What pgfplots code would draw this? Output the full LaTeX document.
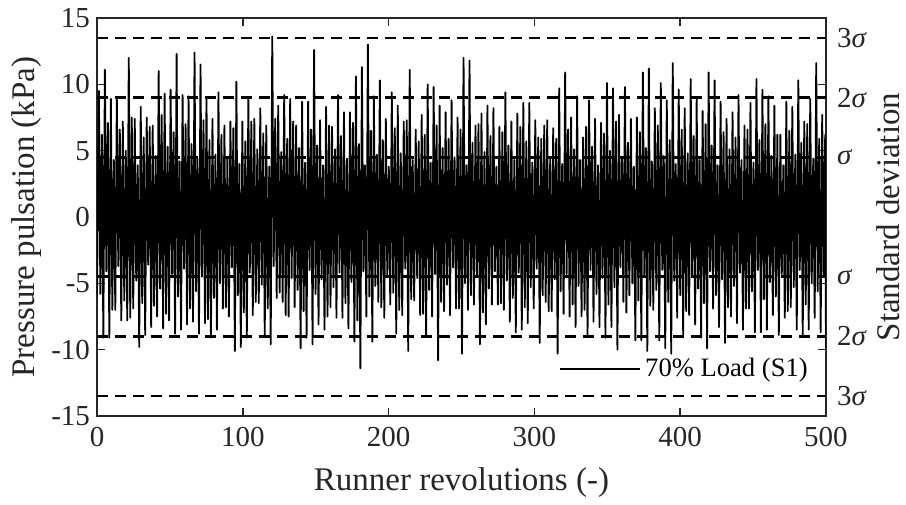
\documentclass[border=0pt]{standalone}
\usepackage{fontspec}
\setmainfont{Liberation Serif}
\usepackage{pgfplots}
\pgfplotsset{compat=1.18}
\definecolor{axgray}{HTML}{262626}
\begin{document}
\begin{tikzpicture}
\useasboundingbox (-48.5pt,-44pt) rectangle (404.5pt,208pt);
\begin{axis}[
  scale only axis, width=364.5pt, height=199pt,
  xmin=0, xmax=500, ymin=-15, ymax=15,
  xtick={0,100,200,300,400,500}, xticklabels={0,100,200,300,400,500},
  ytick={-15,-10,-5,0,5,10,15}, yticklabels={-15,-10,-5,0,5,10,15},
  tick pos=both, ticklabel pos=default,
  tick align=inside, major tick length=4pt,
  axis line style={draw=axgray, line width=0.8pt},
  tick style={draw=axgray, line width=0.8pt},
  ticklabel style={font=\fontsize{14.5}{16}\selectfont, text=axgray},
  xticklabel style={yshift=-2pt},
  xlabel={Runner revolutions (-)},
  ylabel={Pressure pulsation (kPa)},
  label style={font=\fontsize{16.5}{19}\selectfont, text=axgray, inner sep=0pt},
  xlabel style={at={(axis description cs:0.5,-0.166)}, anchor=center},
  ylabel style={at={(axis description cs:-0.096,0.5)}, anchor=center},
  legend style={at={(axis description cs:0.981,0.081)}, anchor=south east, draw=none, fill=none, font=\fontsize{13.3}{15}\selectfont, inner sep=0pt},
  legend image code/.code={\draw[#1] (0pt,0pt) -- (40pt,0pt);},
]
\addplot[black, line width=0.9pt, line join=round] coordinates {
(0,-6.0)
(1.3,9.5)(2.3,-5.8)(3.35,6.2)(4.35,-9.1)
(5.4,11.1)(6.4,-4.1)(7.45,7.1)(8.45,-9.1)
(9.5,8.9)(10.5,-7.0)(11.55,4.3)(12.55,-7.0)
(13.6,9.0)(14.6,-3.7)(15.65,6.6)(16.65,-7.8)
(17.7,7.2)(18.7,-6.3)(19.75,5.0)(20.75,-7.8)
(21.8,12.0)(22.8,-7.6)(23.85,7.5)(24.85,-6.9)
(25.9,7.4)(26.9,-4.8)(27.95,3.9)(28.95,-9.8)
(30.0,8.3)(31.0,-6.5)(32.05,6.0)(33.05,-8.9)
(34.1,7.5)(35.1,-3.6)(36.15,6.8)(37.15,-8.3)
(38.2,6.9)(39.2,-6.7)(40.25,4.6)(41.25,-7.5)
(42.3,11.0)(43.3,-5.4)(44.35,7.7)(45.35,-8.4)
(46.4,9.3)(47.4,-7.3)(48.45,5.3)(49.45,-7.8)
(50.5,9.6)(51.5,-4.3)(52.55,6.4)(53.55,-8.8)
(54.6,12.3)(55.6,-6.0)(56.65,4.2)(57.65,-8.5)
(58.7,9.2)(59.7,-3.9)(60.75,7.0)(61.75,-8.1)
(62.8,9.1)(63.8,-6.9)(64.85,5.5)(65.85,-7.9)
(66.9,12.4)(67.9,-5.6)(68.95,4.4)(69.95,-8.8)
(71.0,11.5)(72.0,-4.5)(73.05,7.3)(74.05,-8.0)
(75.1,9.0)(76.1,-7.7)(77.15,5.8)(78.15,-9.1)
(79.2,7.4)(80.2,-6.1)(81.25,4.7)(82.25,-8.5)
(83.3,9.4)(84.3,-5.0)(85.35,6.2)(86.35,-6.9)
(87.4,6.9)(88.4,-6.8)(89.45,4.5)(90.45,-7.5)
(91.5,7.2)(92.5,-3.8)(93.55,6.7)(94.55,-10.1)
(95.6,10.2)(96.6,-5.9)(97.65,4.0)(98.65,-9.8)
(99.7,7.2)(100.7,-7.2)(101.75,5.7)(102.75,-9.1)
(103.8,8.9)(104.8,-4.2)(105.85,7.2)(106.85,-7.4)
(107.9,7.4)(108.9,-6.4)(109.95,5.1)(110.95,-6.5)
(112.0,8.2)(113.0,-5.1)(114.05,6.3)(115.05,-8.9)
(116.1,6.9)(117.1,-6.9)(118.15,3.8)(119.15,-9.6)
(120.2,13.6)(121.2,-3.7)(122.25,7.4)(123.25,-6.1)
(124.3,8.4)(125.3,-5.7)(126.35,4.9)(127.35,-6.4)
(128.4,9.2)(129.4,-7.4)(130.45,5.9)(131.45,-7.5)
(132.5,8.9)(133.5,-4.6)(134.55,7.2)(135.55,-6.8)
(136.6,6.9)(137.6,-5.5)(138.65,5.2)(139.65,-9.9)
(140.7,8.7)(141.7,-7.1)(142.75,4.1)(143.75,-9.1)
(144.8,8.7)(145.8,-4.0)(146.85,6.6)(147.85,-9.6)
(148.9,12.6)(149.9,-5.8)(150.95,5.4)(151.95,-8.1)
(153.0,7.3)(154.0,-4.7)(155.05,3.9)(156.05,-8.5)
(157.1,8.3)(158.1,-7.5)(159.15,6.9)(160.15,-6.8)
(161.2,6.8)(162.2,-5.3)(163.25,5.1)(164.25,-7.6)
(165.3,9.2)(166.3,-4.2)(167.35,6.1)(168.35,-7.6)
(169.4,7.9)(170.4,-6.5)(171.45,4.4)(172.45,-8.4)
(173.5,7.9)(174.5,-4.9)(175.55,7.1)(176.55,-9.4)
(177.6,10.6)(178.6,-7.8)(179.65,5.5)(180.65,-11.4)
(181.7,11.3)(182.7,-4.1)(183.75,3.9)(184.75,-7.5)
(185.8,13.0)(186.8,-6.0)(187.85,6.5)(188.85,-9.4)
(189.9,9.1)(190.9,-5.2)(191.95,4.7)(192.95,-6.4)
(194.0,10.3)(195.0,-6.8)(196.05,5.8)(197.05,-7.6)
(198.1,7.4)(199.1,-4.4)(200.15,3.8)(201.15,-6.6)
(202.2,9.4)(203.2,-5.7)(204.25,6.7)(205.25,-8.8)
(206.3,8.4)(207.3,-7.0)(208.35,4.8)(209.35,-7.4)
(210.4,7.2)(211.4,-3.9)(212.45,7.3)(213.45,-10.1)
(214.5,11.1)(215.5,-6.2)(216.55,4.3)(217.55,-6.3)
(218.6,6.6)(219.6,-4.6)(220.65,5.7)(221.65,-7.4)
(222.7,7.7)(223.7,-7.3)(224.75,6.2)(225.75,-8.9)
(226.8,10.0)(227.8,-5.5)(228.85,4.1)(229.85,-7.5)
(230.9,9.8)(231.9,-4.3)(232.95,6.9)(233.95,-10.8)
(235.0,8.4)(236.0,-6.4)(237.05,5.2)(238.05,-7.1)
(239.1,7.9)(240.1,-5.1)(241.15,5.9)(242.15,-7.4)
(243.2,8.8)(244.2,-3.8)(245.25,4.5)(246.25,-6.9)
(247.3,7.5)(248.3,-6.9)(249.35,6.6)(250.35,-10.3)
(251.4,12.0)(252.4,-5.0)(253.45,3.9)(254.45,-7.0)
(255.5,11.8)(256.5,-5.9)(257.55,5.6)(258.55,-6.6)
(259.6,6.9)(260.6,-4.5)(261.65,7.0)(262.65,-9.6)
(263.7,7.8)(264.7,-7.2)(265.75,4.9)(266.75,-8.1)
(267.8,8.4)(268.8,-5.4)(269.85,6.1)(270.85,-6.6)
(271.9,8.2)(272.9,-4.1)(273.95,3.8)(274.95,-6.6)
(276.0,6.8)(277.0,-6.5)(278.05,6.4)(279.05,-7.0)
(280.1,9.4)(281.1,-4.8)(282.15,5.4)(283.15,-7.9)
(284.2,7.2)(285.2,-6.1)(286.25,4.3)(287.25,-8.7)
(288.3,7.8)(289.3,-4.2)(290.35,6.8)(291.35,-8.5)
(292.4,8.6)(293.4,-6.8)(294.45,5.7)(295.45,-8.0)
(296.5,8.6)(297.5,-5.3)(298.55,4.1)(299.55,-6.9)
(300.6,7.3)(301.6,-3.9)(302.65,6.0)(303.65,-9.5)
(304.7,5.9)(305.7,-5.9)(306.75,6.9)(307.75,-6.4)
(308.8,7.3)(309.8,-7.1)(310.85,4.5)(311.85,-7.1)
(312.9,6.7)(313.9,-4.7)(314.95,5.9)(315.95,-10.3)
(317.0,9.7)(318.0,-5.6)(319.05,4.0)(320.05,-7.3)
(321.1,10.9)(322.1,-4.3)(323.15,6.6)(324.15,-7.5)
(325.2,7.5)(326.2,-6.6)(327.25,5.1)(328.25,-8.3)
(329.3,9.1)(330.3,-5.2)(331.35,4.3)(332.35,-7.5)
(333.4,6.0)(334.4,-7.0)(335.45,6.8)(336.45,-9.0)
(337.5,8.8)(338.5,-4.0)(339.55,5.3)(340.55,-7.9)
(341.6,7.4)(342.6,-5.8)(343.65,3.9)(344.65,-8.3)
(345.7,7.1)(346.7,-4.6)(347.75,6.3)(348.75,-9.1)
(349.8,10.1)(350.8,-6.6)(351.85,5.0)(352.85,-8.3)
(353.9,9.7)(354.9,-5.3)(355.95,7.2)(356.95,-10.0)
(358.0,7.7)(359.0,-3.8)(360.05,4.4)(361.05,-6.4)
(362.1,9.8)(363.1,-7.2)(364.15,5.6)(365.15,-5.9)
(366.2,7.4)(367.2,-5.0)(368.25,3.8)(369.25,-9.3)
(370.3,7.5)(371.3,-6.3)(372.35,6.4)(373.35,-9.3)
(374.4,10.9)(375.4,-4.4)(376.45,5.2)(377.45,-10.1)
(378.5,11.2)(379.5,-6.7)(380.55,4.2)(381.55,-7.0)
(382.6,8.2)(383.6,-5.5)(384.65,6.9)(385.65,-9.3)
(386.7,10.1)(387.7,-4.0)(388.75,4.6)(389.75,-9.9)
(390.8,8.8)(391.8,-6.4)(392.85,5.8)(393.85,-10.3)
(394.9,11.6)(395.9,-4.8)(396.95,4.0)(397.95,-7.6)
(399.0,9.6)(400.0,-5.9)(401.05,6.6)(402.05,-8.9)
(403.1,8.2)(404.1,-7.1)(405.15,4.8)(406.15,-7.4)
(407.2,10.4)(408.2,-4.5)(409.25,6.1)(410.25,-8.1)
(411.3,8.9)(412.3,-5.4)(413.35,4.3)(414.35,-9.1)
(415.4,8.0)(416.4,-6.5)(417.45,7.0)(418.45,-9.9)
(419.5,10.9)(420.5,-4.1)(421.55,5.4)(422.55,-6.9)
(423.6,10.3)(424.6,-5.9)(425.65,3.9)(426.65,-8.3)
(427.7,8.7)(428.7,-4.7)(429.75,6.4)(430.75,-9.5)
(431.8,7.4)(432.8,-6.8)(433.85,5.1)(434.85,-7.5)
(435.9,7.9)(436.9,-5.2)(437.95,6.0)(438.95,-8.0)
(440.0,9.2)(441.0,-4.2)(442.05,4.3)(443.05,-8.5)
(444.1,6.9)(445.1,-6.9)(446.15,6.6)(447.15,-6.9)
(448.2,8.6)(449.2,-5.6)(450.25,4.1)(451.25,-8.7)
(452.3,10.4)(453.3,-4.0)(454.35,5.8)(455.35,-8.7)
(456.4,9.6)(457.4,-6.2)(458.45,7.0)(459.45,-8.5)
(460.5,9.1)(461.5,-4.9)(462.55,4.6)(463.55,-7.4)
(464.6,8.4)(465.6,-6.0)(466.65,6.2)(467.65,-8.9)
(468.7,6.2)(469.7,-4.3)(470.75,3.9)(471.75,-7.6)
(472.8,8.7)(473.8,-7.1)(474.85,6.5)(475.85,-6.8)
(476.9,8.3)(477.9,-5.3)(478.95,4.7)(479.95,-8.5)
(481.0,10.3)(482.0,-4.0)(483.05,5.6)(484.05,-8.9)
(485.1,7.2)(486.1,-6.6)(487.15,7.0)(488.15,-8.5)
(489.2,8.9)(490.2,-5.0)(491.25,4.4)(492.25,-7.6)
(493.3,11.6)(494.3,-5.6)(495.35,5.9)(496.35,-8.7)
(497.4,7.7)(498.4,-4.4)(499.45,6.2)(500,-9.9)
};
\addlegendentry{70\% Load (S1)}
\addplot[black, line width=1.3pt, dash pattern=on 5.5pt off 3.5pt, forget plot] coordinates {(0,13.5)(500,13.5)};
\addplot[black, line width=1.3pt, dash pattern=on 5.5pt off 3.5pt, forget plot] coordinates {(0,9)(500,9)};
\addplot[black, line width=1.3pt, dash pattern=on 5.5pt off 3.5pt, forget plot] coordinates {(0,4.5)(500,4.5)};
\addplot[black, line width=1.3pt, dash pattern=on 5.5pt off 3.5pt, forget plot] coordinates {(0,-4.5)(500,-4.5)};
\addplot[black, line width=1.3pt, dash pattern=on 5.5pt off 3.5pt, forget plot] coordinates {(0,-9)(500,-9)};
\addplot[black, line width=1.3pt, dash pattern=on 5.5pt off 3.5pt, forget plot] coordinates {(0,-13.5)(500,-13.5)};
\end{axis}
\begin{axis}[
  scale only axis, width=364.5pt, height=199pt,
  xmin=0, xmax=500, ymin=-15, ymax=15,
  axis x line=none, axis y line*=right,
  axis line style={draw=none},
  ytick={-13.5,-9,-4.5,4.5,9,13.5},
  yticklabels={3{\itshape σ},2{\itshape σ},{\itshape σ},{\itshape σ},2{\itshape σ},3{\itshape σ}},
  major tick length=0pt,
  yticklabel style={font=\fontsize{14.5}{16}\selectfont, text=axgray, xshift=2pt},
  ylabel={Standard deviation},
  ylabel style={at={(axis description cs:1.086,0.5)}, anchor=center, font=\fontsize{16.5}{19}\selectfont, text=axgray, inner sep=0pt},
]
\addplot[draw=none] coordinates {(0,0)(500,0)};
\end{axis}
\end{tikzpicture}
\end{document}
